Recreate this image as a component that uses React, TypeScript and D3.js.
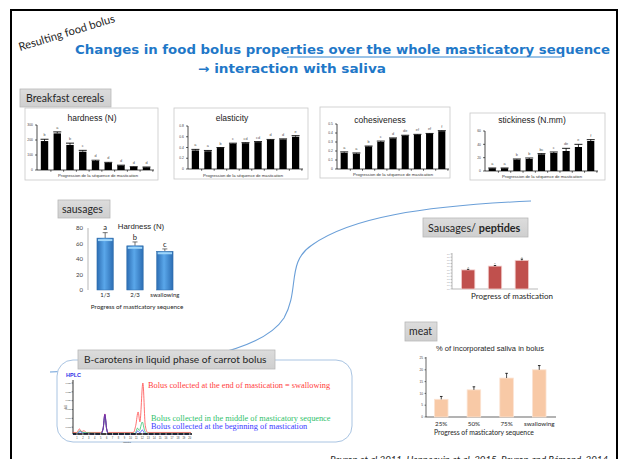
import React from 'react';
import * as d3 from 'd3';

// ---------- DATA ----------
const cerealStages = ['1', '2', '3', '4', '5', '6', '7', '8', '9'];

const hardnessValues = [193, 244, 167, 122, 60, 47, 29, 20, 18];
const hardnessErrors = [12, 10, 12, 9, 5, 4, 3, 2, 2];
const hardnessLetters = ['b', 'a', 'b', 'c', 'd', 'd', 'd', 'd', 'd'];
const hardnessTicks = [0, 100, 200, 300];

const elasticityValues = [0.345, 0.33, 0.39, 0.47, 0.48, 0.5, 0.54, 0.55, 0.6];
const elasticityErrors = [0.02, 0.015, 0.01, 0.01, 0.01, 0.01, 0.01, 0.01, 0.02];
const elasticityLetters = ['a', 'a', 'b', 'c', 'cd', 'cd', 'd', 'd', 'e'];
const elasticityTicks = [0, 0.2, 0.4, 0.6, 0.8];

const cohesivenessValues = [0.18, 0.17, 0.25, 0.3, 0.34, 0.37, 0.38, 0.39, 0.42];
const cohesivenessErrors = [0.01, 0.008, 0.005, 0.01, 0.005, 0.005, 0.005, 0.005, 0.006];
const cohesivenessLetters = ['a', 'a', 'b', 'c', 'd', 'de', 'ef', 'ef', 'f'];
const cohesivenessTicks = [0, 0.1, 0.2, 0.3, 0.4, 0.5];

const stickinessValues = [4, 4, 17, 18, 25, 27, 30, 36, 45];
const stickinessErrors = [0.5, 0.5, 1, 1.5, 1, 1.5, 4, 4, 2];
const stickinessLetters = ['a', 'a', 'b', 'b', 'bc', 'c', 'de', 'e', 'f'];
const stickinessTicks = [0, 20, 40, 60];

const sausageStages = ['1/3', '2/3', 'swallowing'];
const sausageHardness = [67, 57, 50];
const sausageErrors = [7, 5, 3];
const sausageLetters = ['a', 'b', 'c'];
const sausageTicks = [0, 20, 40, 60, 80];

const peptideStages = ['1', '2', '3'];
const peptideValues = [0.6, 0.72, 0.9];
const peptideErrors = [0.02, 0.02, 0.04];
const peptideLetters = ['a', 'b', 'c'];
const peptideTicks = [0, 0.1, 0.2, 0.3, 0.4, 0.5, 0.6, 0.7, 0.8, 0.9, 1.0, 1.1];

const meatStages = ['25%', '50%', '75%', 'swallowing'];
const meatSaliva = [7.5, 11.5, 16.5, 20];
const meatErrors = [1.2, 1.3, 2, 1.8];
const meatTicks = [0, 5, 10, 15, 20, 25];

const hplcTimeTicks = [1, 2, 3, 4, 5, 6, 7, 8, 9, 10, 11, 12, 13, 14, 15, 16, 17, 18, 19, 20];
const hplcAbsTicks = [0.005, 0.01, 0.015, 0.02, 0.025, 0.03];
const hplcEnd: [number, number][] = [
  [0.3, 0.002], [1, 0.002], [1.4, 0.004], [1.8, 0.0025], [2.2, 0.003], [2.6, 0.002], [5.0, 0.002],
  [5.4, 0.004], [5.7, 0.0125], [6.0, 0.004], [6.3, 0.002], [10.5, 0.002], [10.9, 0.006],
  [11.3, 0.0136], [11.6, 0.008], [12.1, 0.030], [12.5, 0.006], [12.9, 0.002], [20.2, 0.002],
];
const hplcMiddle: [number, number][] = [
  [0.3, 0.0015], [1, 0.0015], [1.5, 0.003], [2, 0.002], [5.0, 0.0015], [5.4, 0.004], [5.7, 0.011],
  [6.0, 0.004], [6.3, 0.0015], [10.8, 0.0015], [11.2, 0.0045], [11.5, 0.003], [12.0, 0.0079],
  [12.4, 0.003], [12.8, 0.0015], [20.2, 0.0015],
];
const hplcBeginning: [number, number][] = [
  [0.3, 0.001], [1, 0.001], [1.5, 0.0025], [2, 0.0015], [5.0, 0.001], [5.4, 0.004], [5.7, 0.0122],
  [6.0, 0.004], [6.3, 0.001], [10.8, 0.001], [11.2, 0.0028], [11.6, 0.0018], [12.0, 0.0034],
  [12.4, 0.0015], [12.8, 0.001], [20.2, 0.001],
];

// ---------- FONTS ----------
const fCal = "Lato, 'Open Sans', sans-serif";
const fArial = "'Liberation Sans', Arial, sans-serif";
const fSerif = "'Liberation Serif', 'Times New Roman', serif";

type Box = { x: number; y: number; w: number; h: number };
type Plot = { left: number; right: number; top: number; bottom: number };

function CerealChart(props: {
  box: Box; plot: Plot; title: string; titleX: number; titleY: number; xtX: number; xtY: number;
  max: number; ticks: number[]; values: number[]; errors: number[]; letters: string[];
}) {
  const { box, plot, title, titleX, titleY, xtX, xtY, max, ticks, values, errors, letters } = props;
  const x = d3.scaleBand().domain(cerealStages).range([plot.left, plot.right]).paddingInner(0.42).paddingOuter(0.3);
  const y = d3.scaleLinear().domain([0, max]).range([plot.bottom, plot.top]);
  const step = x.step();
  return (
    <g>
      <rect x={box.x} y={box.y} width={box.w} height={box.h} fill="#fff" stroke="#c8c8c8" strokeWidth={0.8} />
      <text x={titleX} y={titleY} fontFamily={fArial} fontSize={8.5} textAnchor="middle" fill="#222">{title}</text>
      <line x1={plot.left} x2={plot.left} y1={plot.top} y2={plot.bottom} stroke="#000" strokeWidth={0.7} />
      <line x1={plot.left} x2={plot.right} y1={plot.bottom} y2={plot.bottom} stroke="#000" strokeWidth={0.7} />
      {ticks.map((t) => (
        <g key={t}>
          <line x1={plot.left - 2} x2={plot.left} y1={y(t)} y2={y(t)} stroke="#000" strokeWidth={0.6} />
          <text x={plot.left - 4} y={y(t) + 1.2} fontFamily={fArial} fontSize={3.4} textAnchor="end" fill="#444">{String(t)}</text>
        </g>
      ))}
      {cerealStages.map((s) => (
        <line key={'t' + s} x1={(x(s) as number) + x.bandwidth() + (step - x.bandwidth()) / 2} x2={(x(s) as number) + x.bandwidth() + (step - x.bandwidth()) / 2}
          y1={plot.bottom} y2={plot.bottom + 1.8} stroke="#000" strokeWidth={0.6} />
      ))}
      {cerealStages.map((s, i) => {
        const bx = x(s) as number;
        const cx = bx + x.bandwidth() / 2;
        const top = y(values[i] + errors[i]);
        return (
          <g key={s}>
            <rect x={bx} y={y(values[i])} width={x.bandwidth()} height={plot.bottom - y(values[i])} fill="#000" />
            <line x1={cx} x2={cx} y1={y(values[i])} y2={top} stroke="#000" strokeWidth={0.8} />
            <line x1={cx - 4} x2={cx + 4} y1={top} y2={top} stroke="#000" strokeWidth={0.9} />
            <text x={cx} y={top - 3} fontFamily={fArial} fontSize={3.8} textAnchor="middle" fill="#555">{letters[i]}</text>
          </g>
        );
      })}
      <text x={xtX} y={xtY} fontFamily={fArial} fontSize={4.2} textAnchor="middle" fill="#333">Progression de la séquence de mastication</text>
    </g>
  );
}

function LabelBox(props: { x: number; y: number; w: number; h: number; children: React.ReactNode; size?: number; tx?: number }) {
  const { x, y, w, h, children, size = 10.5, tx } = props;
  return (
    <g>
      <rect x={x} y={y} width={w} height={h} fill="url(#grayBox)" stroke="#b8b8b8" strokeWidth={0.8} />
      <text x={tx ?? x + 5} y={y + h / 2 + size * 0.36} fontFamily={fCal} fontSize={size} fill="#262626">{children}</text>
    </g>
  );
}

function SausageChart() {
  const x = d3.scaleBand().domain(sausageStages).range([88, 182]).paddingInner(0.45).paddingOuter(0.3);
  const y = d3.scaleLinear().domain([0, 80]).range([290, 228]);
  return (
    <g>
      <line x1={88} x2={88} y1={228} y2={290} stroke="#9a9a9a" strokeWidth={0.7} />
      {sausageTicks.map((t) => (
        <text key={t} x={83} y={y(t) + 2} fontFamily={fCal} fontSize={6} textAnchor="end" fill="#404040">{t}</text>
      ))}
      {sausageStages.map((s, i) => {
        const bx = x(s) as number;
        const cx = bx + x.bandwidth() / 2;
        const top = y(sausageHardness[i] + sausageErrors[i]);
        return (
          <g key={s}>
            <line x1={cx} x2={cx} y1={y(sausageHardness[i])} y2={top} stroke="#3a3a3a" strokeWidth={0.7} />
            <line x1={cx - 2.5} x2={cx + 2.5} y1={top} y2={top} stroke="#3a3a3a" strokeWidth={0.7} />
            <rect x={bx} y={y(sausageHardness[i])} width={x.bandwidth()} height={290 - y(sausageHardness[i])} fill="url(#blueBar)" stroke="#2d6aa8" strokeWidth={0.5} />
            <rect x={bx + 1} y={y(sausageHardness[i]) + 1} width={x.bandwidth() - 2} height={2} fill="#9fd6fa" />
            <text x={cx} y={top - 2.2} fontFamily={fCal} fontSize={7.6} textAnchor="middle" fill="#262626">{sausageLetters[i]}</text>
            <text x={cx} y={296.5} fontFamily={fCal} fontSize={6} textAnchor="middle" fill="#262626">{s}</text>
          </g>
        );
      })}
      <text x={141} y={228.5} fontFamily={fArial} fontSize={7.8} textAnchor="middle" fill="#262626">Hardness (N)</text>
      <text x={137} y={309} fontFamily={fCal} fontSize={6.3} textAnchor="middle" fill="#262626">Progress of masticatory sequence</text>
    </g>
  );
}

function PeptideChart() {
  const x = d3.scaleBand().domain(peptideStages).range([452, 538]).paddingInner(0.5).paddingOuter(0.35);
  const y = d3.scaleLinear().domain([0, 1.1]).range([289, 254]);
  return (
    <g>
      <line x1={452} x2={452} y1={253} y2={289} stroke="#8c8c8c" strokeWidth={0.6} />
      <line x1={452} x2={538} y1={289} y2={289} stroke="#8c8c8c" strokeWidth={0.6} />
      {peptideTicks.map((t) => (
        <g key={t}>
          <line x1={450.5} x2={452} y1={y(t)} y2={y(t)} stroke="#8c8c8c" strokeWidth={0.5} />
          <text x={449.5} y={y(t) + 0.6} fontFamily={fArial} fontSize={1.8} textAnchor="end" fill="#777">{t.toFixed(1)}</text>
        </g>
      ))}
      {peptideStages.map((s, i) => {
        const bx = x(s) as number;
        const cx = bx + x.bandwidth() / 2;
        const top = y(peptideValues[i] + peptideErrors[i]);
        return (
          <g key={s}>
            <rect x={bx} y={y(peptideValues[i])} width={x.bandwidth()} height={289 - y(peptideValues[i])} fill="#c0504d" stroke="#f3cfcd" strokeWidth={0.8} />
            <line x1={cx} x2={cx} y1={y(peptideValues[i])} y2={top} stroke="#000" strokeWidth={0.8} />
            <line x1={cx - 1.2} x2={cx + 1.2} y1={top} y2={top} stroke="#000" strokeWidth={0.8} />
            <text x={cx} y={top - 1.5} fontFamily={fArial} fontSize={2.5} textAnchor="middle" fill="#555">{peptideLetters[i]}</text>
          </g>
        );
      })}
      <text x={512} y={299} fontFamily={fCal} fontSize={8} textAnchor="middle" fill="#262626">Progress of mastication</text>
    </g>
  );
}

function MeatChart() {
  const x = d3.scaleBand().domain(meatStages).range([425, 555.5]).paddingInner(0.585).paddingOuter(0.29);
  const y = d3.scaleLinear().domain([0, 25]).range([417, 358]);
  return (
    <g>
      <line x1={426} x2={426} y1={357} y2={417} stroke="#000" strokeWidth={0.6} />
      <line x1={426} x2={556} y1={417} y2={417} stroke="#000" strokeWidth={0.6} />
      {meatTicks.map((t) => (
        <g key={t}>
          <line x1={424.5} x2={426} y1={y(t)} y2={y(t)} stroke="#000" strokeWidth={0.5} />
          <text x={423} y={y(t) + 1.1} fontFamily={fArial} fontSize={3.2} textAnchor="end" fill="#444">{t}</text>
        </g>
      ))}
      {meatStages.map((s, i) => {
        const bx = x(s) as number;
        const cx = bx + x.bandwidth() / 2;
        const top = y(meatSaliva[i] + meatErrors[i]);
        return (
          <g key={s}>
            <rect x={bx} y={y(meatSaliva[i])} width={x.bandwidth()} height={417 - y(meatSaliva[i])} fill="#f8c9a6" stroke="#fbe3d2" strokeWidth={0.8} />
            <line x1={cx} x2={cx} y1={y(meatSaliva[i])} y2={top} stroke="#000" strokeWidth={0.7} />
            <line x1={cx - 1.3} x2={cx + 1.3} y1={top} y2={top} stroke="#000" strokeWidth={0.8} />
            <text x={cx} y={425.5} fontFamily={fCal} fontSize={6.3} textAnchor="middle" fill="#262626">{s}</text>
          </g>
        );
      })}
      <text x={490} y={351} fontFamily={fArial} fontSize={7.5} textAnchor="middle" fill="#262626">% of incorporated  saliva in bolus</text>
      <text x={484} y={434.5} fontFamily={fCal} fontSize={6.8} textAnchor="middle" fill="#262626">Progress of masticatory sequence</text>
    </g>
  );
}

function HplcChart() {
  const x = d3.scaleLinear().domain([0, 20.2]).range([71, 191]);
  const y = d3.scaleLinear().domain([0, 0.03]).range([436, 383]);
  const ln = d3.line<[number, number]>().x((d) => x(d[0])).y((d) => y(d[1])).curve(d3.curveMonotoneX);
  return (
    <g>
      <rect x={57} y={360} width={295} height={82} rx={16} ry={16} fill="#fff" stroke="#a9c4e2" strokeWidth={1} />
      <LabelBox x={78} y={350} w={197} h={19} size={10.2} tx={84}>B-carotens in liquid phase of carrot bolus</LabelBox>
      <text x={66} y={377} fontFamily={fArial} fontWeight="bold" fontSize={5.5} fill="#2f2fe8">HPLC</text>
      <line x1={73} x2={73} y1={380} y2={434} stroke="#000" strokeWidth={0.8} />
      {hplcAbsTicks.map((t) => (
        <g key={t}>
          <line x1={71.5} x2={73} y1={y(t)} y2={y(t)} stroke="#000" strokeWidth={0.4} />
          <text x={71} y={y(t) + 0.7} fontFamily={fArial} fontSize={2.2} textAnchor="end" fill="#333">{t.toFixed(3)}</text>
        </g>
      ))}
      <text x={0} y={0} transform="translate(66.5,407) rotate(-90)" fontFamily={fArial} fontSize={2.8} textAnchor="middle" fill="#333">AU</text>
      <path d={ln(hplcEnd) || ''} fill="none" stroke="#ff4b4b" strokeWidth={0.8} />
      <path d={ln(hplcMiddle) || ''} fill="none" stroke="#2fbf6a" strokeWidth={0.8} />
      <path d={ln(hplcBeginning) || ''} fill="none" stroke="#4040ff" strokeWidth={0.8} />
      <path d={ln(hplcBeginning.filter((d) => d[0] > 4.5 && d[0] < 7)) || ''} fill="none" stroke="#7a2a9a" strokeWidth={0.9} />
      <line x1={73} x2={192} y1={434} y2={434} stroke="#000" strokeWidth={1.4} />
      {hplcTimeTicks.map((t) => (
        <g key={t}>
          <line x1={x(t)} x2={x(t)} y1={433} y2={435.5} stroke="#fff" strokeWidth={0.6} />
          <text x={x(t)} y={439} fontFamily={fArial} fontSize={2.6} textAnchor="middle" fill="#333">{t}</text>
        </g>
      ))}
      <text x={127} y={442.5} fontFamily={fArial} fontSize={2.2} textAnchor="middle" fill="#333">Minutes</text>
      <text x={148} y={387.5} fontFamily={fSerif} fontSize={8.3} fill="#ff3b3b">Bolus collected at the end of mastication = swallowing</text>
      <text x={151} y={421} fontFamily={fSerif} fontSize={8.3} fill="#2fbf6a">Bolus collected in the middle of masticatory sequence</text>
      <text x={151} y={428.5} fontFamily={fSerif} fontSize={8.3} fill="#3a3aff">Bolus collected at the beginning of mastication</text>
    </g>
  );
}

export default function App() {
  return (
    <svg width={621} height={459} viewBox="0 0 621 459" style={{ position: 'absolute', left: 0, top: 0, background: '#fff' }}>
      <defs>
        <linearGradient id="grayBox" x1="0" x2="0" y1="0" y2="1">
          <stop offset="0" stopColor="#dcdcdc" />
          <stop offset="1" stopColor="#cfcfcf" />
        </linearGradient>
        <linearGradient id="blueBar" x1="0" x2="1" y1="0" y2="0">
          <stop offset="0" stopColor="#2c6db3" />
          <stop offset="0.45" stopColor="#5aa7ea" />
          <stop offset="1" stopColor="#2c6db3" />
        </linearGradient>
      </defs>
      <rect x={0} y={0} width={621} height={459} fill="#fff" />
      <rect x={11} y={10} width={606} height={470} fill="none" stroke="#000" strokeWidth={2} />

      {/* S curve decoration */}
      <path d="M50,372 C180,368 262,352 284,318 C300,290 286,262 312,245 C350,218 420,206 531,201" fill="none" stroke="#6a9fd8" strokeWidth={1.1} />

      {/* heading */}
      <text x={0} y={0} transform="translate(20,51) rotate(-17)" fontFamily={fCal} fontSize={11.2} fill="#262626">Resulting food bolus</text>
      <text x={75} y={53.5} fontFamily="'DejaVu Sans', sans-serif" fontWeight="bold" fontSize={12.5} fill="#1f78c8" textLength={535} lengthAdjust="spacingAndGlyphs">Changes in food bolus properties over the whole masticatory sequence</text>
      <line x1={287} x2={562} y1={57} y2={57} stroke="#1f78c8" strokeWidth={0.9} />
      <text x={198} y={72.5} fontFamily="'DejaVu Sans', sans-serif" fontWeight="bold" fontSize={12.5} fill="#1f78c8" textLength={188} lengthAdjust="spacingAndGlyphs">→ interaction with saliva</text>

      {/* Breakfast cereals */}
      <LabelBox x={20} y={89} w={91} h={18} size={10.5} tx={26}>Breakfast cereals</LabelBox>
      <CerealChart box={{ x: 25, y: 108, w: 133, h: 72 }} plot={{ left: 37, right: 154, top: 125, bottom: 170 }}
        title="hardness (N)" titleX={92} titleY={121} xtX={98} xtY={176.5} max={300} ticks={hardnessTicks}
        values={hardnessValues} errors={hardnessErrors} letters={hardnessLetters} />
      <CerealChart box={{ x: 174, y: 108, w: 134, h: 71 }} plot={{ left: 188, right: 303, top: 126, bottom: 169 }}
        title="elasticity" titleX={232} titleY={121} xtX={243} xtY={176.5} max={0.8} ticks={elasticityTicks}
        values={elasticityValues} errors={elasticityErrors} letters={elasticityLetters} />
      <CerealChart box={{ x: 320, y: 107, w: 130, h: 71 }} plot={{ left: 337, right: 449, top: 124, bottom: 169 }}
        title="cohesiveness" titleX={380} titleY={123} xtX={393} xtY={176} max={0.5} ticks={cohesivenessTicks}
        values={cohesivenessValues} errors={cohesivenessErrors} letters={cohesivenessLetters} />
      <CerealChart box={{ x: 470, y: 113, w: 135, h: 67 }} plot={{ left: 485, right: 598, top: 131, bottom: 171 }}
        title="stickiness (N.mm)" titleX={532} titleY={123} xtX={542} xtY={177.5} max={60} ticks={stickinessTicks}
        values={stickinessValues} errors={stickinessErrors} letters={stickinessLetters} />

      {/* sausages */}
      <LabelBox x={58} y={200} w={52} h={18} size={10.5} tx={62}>sausages</LabelBox>
      <SausageChart />

      {/* sausages / peptides */}
      <rect x={423} y={218} width={105} height={19} fill="url(#grayBox)" stroke="#b8b8b8" strokeWidth={0.8} />
      <text x={428} y={231.5} fontFamily={fCal} fontSize={10.8} fill="#262626">Sausages/ <tspan fontWeight="bold">peptides</tspan></text>
      <PeptideChart />

      {/* meat */}
      <LabelBox x={405} y={322} w={32} h={19} size={10.5} tx={409}>meat</LabelBox>
      <MeatChart />

      {/* HPLC */}
      <HplcChart />

      <text x={330} y={463} fontFamily={fCal} fontStyle="italic" fontSize={9} fill="#262626" textLength={278} lengthAdjust="spacingAndGlyphs">Peyron et al 2011, Hennequin et al. 2015, Peyron and Rémond, 2014</text>
    </svg>
  );
}
